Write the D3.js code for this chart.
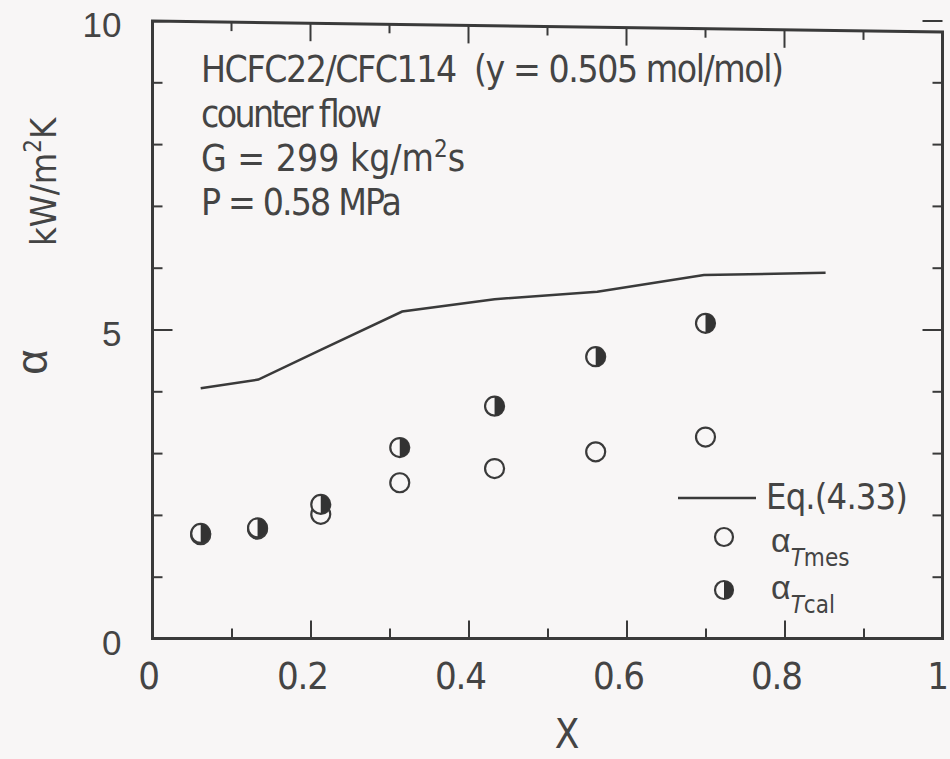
<!DOCTYPE html>
<html>
<head>
<meta charset="utf-8">
<script src="https://cdn.jsdelivr.net/npm/d3@7"></script>
<style>
  body { margin: 0; background: #f8f6f6; }
  svg { display: block; }
  text { white-space: pre; }
</style>
</head>
<body>
<script>
const width = 950;
const height = 759;

// data
const xMeas = [0.061, 0.133, 0.213, 0.313, 0.433, 0.561, 0.700];
const alphaTmes = [1.68, 1.77, 2.01, 2.52, 2.75, 3.02, 3.26];
const alphaTcal = [1.70, 1.79, 2.17, 3.09, 3.76, 4.56, 5.10];

const xEq = [0.061, 0.134, 0.213, 0.316, 0.433, 0.563, 0.698, 0.852];
const alphaEq = [4.05, 4.19, 4.67, 5.29, 5.49, 5.61, 5.88, 5.92];

const xMajor = [0, 0.2, 0.4, 0.6, 0.8, 1];
const xMinor = [0.1, 0.3, 0.5, 0.7, 0.9];
const xTickLabels = ["0", "0.2", "0.4", "0.6", "0.8", "1"];
const yMajor = [0, 5, 10];
const yMinor = [1, 2, 3, 4, 6, 7, 8, 9];
const yTickLabels = ["0", "5", "10"];

const ink = "#3a3a3a";
const narrow = "'Liberation Sans Narrow','DejaVu Sans Condensed',sans-serif";
const regular = "'Liberation Sans','DejaVu Sans',sans-serif";

const svg = d3.select("body").append("svg")
    .attr("width", width)
    .attr("height", height);

svg.append("rect")
    .attr("width", width)
    .attr("height", height)
    .attr("fill", "#f8f6f6");

const x = d3.scaleLinear().domain([0, 1]).range([152.5, 942.5]);
const y = d3.scaleLinear().domain([0, 10]).range([638.5, 20.5]);

// the scanned frame's top edge runs slightly downhill
const topY = px => 21 + (px - x(0)) / (x(1) - x(0)) * 11;

// frame
svg.append("path")
    .attr("d", `M${x(0)},${topY(x(0))}L${x(1)},${topY(x(1))}L${x(1)},${y(0)}L${x(0)},${y(0)}Z`)
    .attr("fill", "none")
    .attr("stroke", ink)
    .attr("stroke-width", 3);

// bottom axis
const bottom = svg.append("g")
    .attr("transform", `translate(0,${y(0)})`)
    .call(d3.axisBottom(x).tickValues(xMajor).tickSize(-18).tickPadding(24)
        .tickFormat((d, i) => xTickLabels[i]));
svg.append("g")
    .attr("transform", `translate(0,${y(0)})`)
    .call(d3.axisBottom(x).tickValues(xMinor).tickSize(-10).tickFormat(""));

// top ticks
svg.append("g").selectAll("line")
    .data(xMajor.concat(xMinor))
    .join("line")
    .attr("x1", d => x(d))
    .attr("x2", d => x(d))
    .attr("y1", d => topY(x(d)))
    .attr("y2", d => topY(x(d)) + (xMajor.includes(d) ? 18 : 9))
    .attr("stroke", ink)
    .attr("stroke-width", 2);

// left axis
const left = svg.append("g")
    .attr("transform", `translate(${x(0)},0)`)
    .call(d3.axisLeft(y).tickValues(yMajor).tickSize(-20).tickPadding(31)
        .tickFormat((d, i) => yTickLabels[i]));
svg.append("g")
    .attr("transform", `translate(${x(0)},0)`)
    .call(d3.axisLeft(y).tickValues(yMinor).tickSize(-10).tickFormat(""));

// right axis
svg.append("g")
    .attr("transform", `translate(${x(1)},0)`)
    .call(d3.axisRight(y).tickValues(yMajor).tickSize(-20).tickFormat(""));
svg.append("g")
    .attr("transform", `translate(${x(1)},0)`)
    .call(d3.axisRight(y).tickValues(yMinor).tickSize(-10).tickFormat(""));

svg.selectAll(".domain").remove();
svg.selectAll(".tick line").attr("stroke", ink).attr("stroke-width", 2);
svg.selectAll(".tick text").attr("fill", "#444");

bottom.selectAll(".tick text")
    .attr("font-family", narrow)
    .attr("font-size", 38)
    .attr("dx", d => (d === 0 ? -4 : d === 1 ? -5 : -8))
    .each(function(d, i) {
        if (xTickLabels[i].length > 1) {
            d3.select(this).attr("textLength", 52).attr("lengthAdjust", "spacing");
        }
    });

left.selectAll(".tick text")
    .attr("font-family", regular)
    .attr("font-size", 35)
    .attr("dy", "0.45em");

// Eq.(4.33) curve
const line = d3.line()
    .x((d, i) => x(xEq[i]))
    .y(d => y(d));

svg.append("path")
    .datum(alphaEq)
    .attr("d", line)
    .attr("fill", "none")
    .attr("stroke", ink)
    .attr("stroke-width", 2.5);

// markers
const r = 9.5;
const halfArc = d3.arc().innerRadius(0).outerRadius(r).startAngle(0).endAngle(Math.PI);

svg.append("g").selectAll("circle")
    .data(alphaTmes)
    .join("circle")
    .attr("cx", (d, i) => x(xMeas[i]))
    .attr("cy", d => y(d))
    .attr("r", r)
    .attr("fill", "#f8f6f6")
    .attr("stroke", ink)
    .attr("stroke-width", 2.2);

const cal = svg.append("g").selectAll("g")
    .data(alphaTcal)
    .join("g")
    .attr("transform", (d, i) => `translate(${x(xMeas[i])},${y(d)})`);
cal.append("circle")
    .attr("r", r)
    .attr("fill", "#f8f6f6")
    .attr("stroke", ink)
    .attr("stroke-width", 2.2);
cal.append("path")
    .attr("d", halfArc)
    .attr("fill", "#333");

// annotation
const note = svg.append("g")
    .attr("font-family", narrow)
    .attr("font-size", 37)
    .attr("fill", "#444");

note.append("text").attr("x", 201).attr("y", 82)
    .attr("textLength", 583).attr("lengthAdjust", "spacing")
    .text("HCFC22/CFC114  (y = 0.505 mol/mol)");
note.append("text").attr("x", 201).attr("y", 127)
    .attr("textLength", 181).attr("lengthAdjust", "spacing")
    .text("counter flow");
const g1 = note.append("text").attr("x", 201).attr("y", 171);
g1.append("tspan").text("G = 299 kg/m");
g1.append("tspan").attr("font-size", 24).attr("dy", -14).text("2");
g1.append("tspan").attr("dy", 14).text("s");
note.append("text").attr("x", 201).attr("y", 215)
    .attr("textLength", 201).attr("lengthAdjust", "spacing")
    .text("P = 0.58 MPa");

// axis titles
svg.append("text")
    .attr("x", 567).attr("y", 748)
    .attr("text-anchor", "middle")
    .attr("font-family", narrow)
    .attr("font-size", 40)
    .attr("fill", "#444")
    .text("X");

const ylab = svg.append("text")
    .attr("transform", "translate(56,246) rotate(-90)")
    .attr("font-family", narrow)
    .attr("font-size", 36)
    .attr("fill", "#444");
ylab.append("tspan").text("kW/m");
ylab.append("tspan").attr("font-size", 24).attr("dy", -15).text("2");
ylab.append("tspan").attr("dy", 15).text("K");

svg.append("text")
    .attr("transform", "translate(47,362) rotate(-90)")
    .attr("text-anchor", "middle")
    .attr("font-family", regular)
    .attr("font-size", 44)
    .attr("fill", "#444")
    .text("α");

// legend
const leg = svg.append("g").attr("fill", "#444");
leg.append("line")
    .attr("x1", 678).attr("x2", 756)
    .attr("y1", 498).attr("y2", 498)
    .attr("stroke", ink).attr("stroke-width", 2.5);
leg.append("text")
    .attr("x", 766).attr("y", 509)
    .attr("font-family", narrow).attr("font-size", 36)
    .attr("textLength", 142).attr("lengthAdjust", "spacing")
    .text("Eq.(4.33)");

leg.append("circle")
    .attr("cx", 724).attr("cy", 537).attr("r", 9)
    .attr("fill", "#f8f6f6").attr("stroke", ink).attr("stroke-width", 2.2);
const lc = leg.append("g").attr("transform", "translate(724,590)");
lc.append("circle").attr("r", 9)
    .attr("fill", "#f8f6f6").attr("stroke", ink).attr("stroke-width", 2.2);
lc.append("path").attr("d", halfArc.outerRadius(9)).attr("fill", "#333");

function alphaSub(yBase, sub) {
    const t = leg.append("text")
        .attr("x", 771).attr("y", yBase)
        .attr("font-family", regular).attr("font-size", 34);
    t.append("tspan").text("α");
    t.append("tspan").attr("font-size", 24).attr("font-family", narrow)
        .attr("dy", 14).attr("font-style", "italic").text(sub[0]);
    t.append("tspan").attr("font-size", 24).attr("font-family", narrow).text(sub.slice(1));
}
alphaSub(552, "Tmes");
alphaSub(599, "Tcal");
</script>
</body>
</html>
